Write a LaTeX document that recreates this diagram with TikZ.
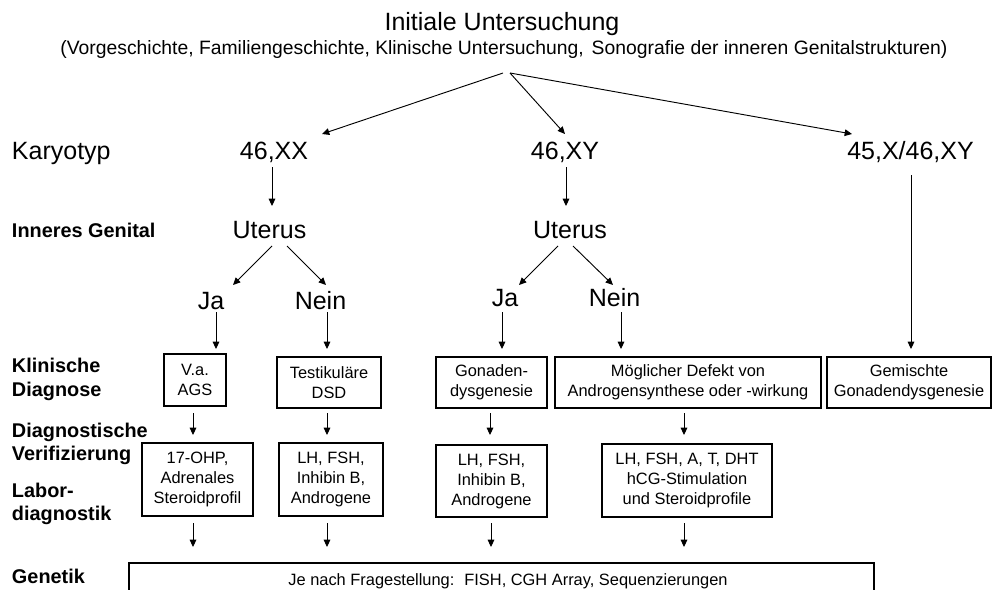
\documentclass[tikz,border=0pt]{standalone}
\usepackage{fontspec}
\setmainfont{Liberation Sans}
\usetikzlibrary{arrows.meta}
\begin{document}
\begin{tikzpicture}[x=0.75pt,y=-0.75pt,
  every node/.style={inner sep=0pt, outer sep=0pt},
  big/.style={font=\fontsize{18.75}{22}\selectfont, anchor=base},
  sub/.style={font=\fontsize{14.5}{17}\selectfont, anchor=base},
  lbl/.style={font=\fontsize{14.9}{17}\selectfont\bfseries, anchor=base west},
  box/.style={draw, line width=0.8pt, align=center, font=\fontsize{12.3}{15}\selectfont},
  arr/.style={-{Triangle[length=5.5pt,width=5pt]}, line width=0.7pt},
  ln/.style={line width=0.7pt}
]
\useasboundingbox (0,0) rectangle (992,589);

% title
\node[big] (title) at (502,31) {Initiale Untersuchung};
\node[sub] (subtitle) at (504,54) {(Vorgeschichte, Familiengeschichte, Klinische Untersuchung,\hspace{2pt} Sonografie der inneren Genitalstrukturen)};
\coordinate (apexL) at (503,73);
\coordinate (apexR) at (510,73);

% row labels
\node[big, anchor=base west] (lkar) at (12,159) {Karyotyp};
\node[lbl] (lig) at (12,237) {Inneres Genital};
\node[lbl] (lkd1) at (12,372) {Klinische};
\node[lbl] (lkd2) at (12,396) {Diagnose};
\node[lbl] (ldv1) at (12,437) {Diagnostische};
\node[lbl] (ldv2) at (12,460) {Verifizierung};
\node[lbl] (llab1) at (12,497) {Labor-};
\node[lbl] (llab2) at (12,520) {diagnostik};
\node[lbl] (lgen) at (12,583) {Genetik};

% karyotypes
\node[big] (xx) at (274,159) {46,XX};
\node[big] (xy) at (565,159) {46,XY};
\node[big] (mos) at (910.5,159) {45,X/46,XY};
\coordinate (txx) at (322,134);
\coordinate (txy) at (565,134);
\coordinate (tmos) at (852,134);
\draw[arr] (apexL) -- (txx);
\draw[arr] (apexR) -- (txy);
\draw[arr] (apexR) -- (tmos);

% uterus
\node[big] (ut1) at (269.5,238) {Uterus};
\node[big] (ut2) at (570,238) {Uterus};
\draw[arr] (272,167) -- (272,206);
\draw[arr] (566,167) -- (566,206);

% ja / nein
\node[big] (ja1) at (211,309) {Ja};
\node[big] (nein1) at (320.5,309) {Nein};
\node[big] (ja2) at (505,306) {Ja};
\node[big] (nein2) at (614.5,306) {Nein};
\draw[arr] (272,246) -- (233,285);
\draw[arr] (287,246) -- (326,285);
\draw[arr] (558,246) -- (519,285);
\draw[arr] (573,246) -- (613,285);

% clinical diagnosis boxes
\node[box, minimum width=62*0.75pt, minimum height=52*0.75pt] (va) at (195,380) {V.a.\\AGS};
\node[box, minimum width=104*0.75pt, minimum height=51*0.75pt] (tdsd) at (329,382.5) {Testikuläre\\DSD};
\node[box, minimum width=111*0.75pt, minimum height=51*0.75pt] (gona) at (491.5,382.5) {Gonaden-\\dysgenesie};
\node[box, minimum width=266*0.75pt, minimum height=51*0.75pt] (moeg) at (688,382.5) {Möglicher Defekt von\\Androgensynthese oder -wirkung};
\node[box, minimum width=164*0.75pt, minimum height=51*0.75pt] (gem) at (909,382.5) {Gemischte\\Gonadendysgenesie};

\draw[arr] (216,312) -- (216,349);
\draw[arr] (327,312) -- (327,349);
\draw[arr] (502,312) -- (502,349);
\draw[arr] (621,312) -- (621,349);
\draw[arr] (911,175) -- (911,349);

% lab boxes
\node[box, minimum width=111*0.75pt, minimum height=73*0.75pt] (lab1) at (197.5,479.5) {17-OHP,\\Adrenales\\Steroidprofil};
\node[box, minimum width=104*0.75pt, minimum height=73*0.75pt] (lab2) at (331,479.5) {LH, FSH,\\Inhibin B,\\Androgene};
\node[box, minimum width=111*0.75pt, minimum height=72*0.75pt] (lab3) at (491.5,481) {LH, FSH,\\Inhibin B,\\Androgene};
\node[box, minimum width=170*0.75pt, minimum height=73*0.75pt] (lab4) at (687,480.5) {LH, FSH, A, T, DHT\\hCG-Stimulation\\und Steroidprofile};

\draw[arr] (193,413) -- (193,435);
\draw[arr] (327,413) -- (327,435);
\draw[arr] (490,413) -- (490,435);
\draw[arr] (684,413) -- (684,435);

% genetics
\draw[arr] (193,523) -- (193,547);
\draw[arr] (327,523) -- (327,547);
\draw[arr] (491,523) -- (491,547);
\draw[arr] (684,523) -- (684,547);
\draw[line width=0.8pt] (129,610) -- (129,563) -- (874,563) -- (874,610);
\node[font=\fontsize{12.3}{15}\selectfont, anchor=base] (gentext) at (508,585) {Je nach Fragestellung:\hspace{3pt} FISH, CGH Array, Sequenzierungen};
\end{tikzpicture}
\end{document}
